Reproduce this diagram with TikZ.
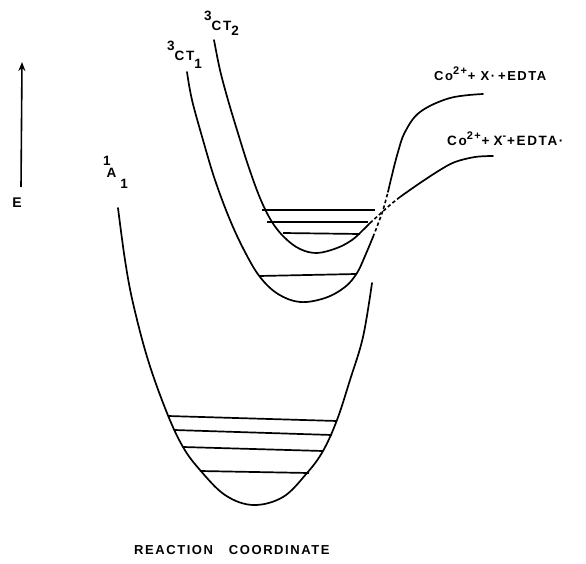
\documentclass[tikz,border=0pt]{standalone}
\usepackage{fontspec}
\setmainfont{Liberation Sans}
\newfontfamily\lbl[LetterSpace=12,BoldFont={Liberation Sans Bold}]{Liberation Sans}
\usetikzlibrary{arrows.meta}
\newcommand{\supr}[1]{\raisebox{6pt}{\fontsize{11}{13}\selectfont #1}}
\begin{document}
\begin{tikzpicture}[x=1pt,y=-1pt,
  curve/.style={line width=1.7pt, line cap=round, line join=round},
  lvl/.style={line width=1.7pt},
  dsh/.style={line width=1.6pt, dash pattern=on 3.5pt off 2.5pt},
  lab/.style={inner sep=0pt, font=\lbl\bfseries\fontsize{13.5}{15}\selectfont},
  prod/.style={inner sep=0pt, anchor=base west, font=\lbl\bfseries\fontsize{13}{15}\selectfont}]
\useasboundingbox (0,0) rectangle (586,564);

% energy axis
\coordinate (ebot) at (21,187);
\coordinate (etop) at (22,62);
\draw[line width=1.6pt, -{Stealth[length=9pt,width=7pt]}] (ebot) -- (etop);
\node[lab, font=\lbl\bfseries\fontsize{14}{16}\selectfont] (E) at (17,203) {E};

% ground state 1A1
\draw[curve] plot[smooth, tension=0.6] coordinates {(118,208) (125,260) (133,303) (148,360) (167,413) (183,447) (200,470) (225,495) (253,505) (283,497) (307,473) (323,451) (337,420) (350,380) (363,337) (372,283)};
\draw[lvl] (168,416) -- (337,421);
\draw[lvl] (174,430) -- (332,435);
\draw[lvl] (183,447) -- (323,451);
\draw[lvl] (200,471) -- (309,473);

% 3CT1 (outer)
\draw[curve] plot[smooth, tension=0.6] coordinates {(187,72) (192,100) (203,140) (215,180) (230,220) (245,252) (260,277) (278,294) (300,302) (325,298) (345,287) (357,273) (365,256) (373,237)};
\draw[dsh] plot[smooth, tension=0.6] coordinates {(373,237) (378,224) (383,210) (388,192)};
\draw[curve] plot[smooth, tension=0.6] coordinates {(388,192) (392,175) (398,152) (405,132) (420,112) (450,98) (483,94)};
\draw[lvl] (259,276) -- (356,274);

% 3CT2 (inner)
\draw[curve] plot[smooth, tension=0.6] coordinates {(214,40) (220,70) (228,100) (237,130) (248,165) (260,198) (272,222) (285,238) (300,249) (317,253) (337,248) (352,240) (362,231) (370,223)};
\draw[dsh] plot[smooth, tension=0.6] coordinates {(370,223) (380,214) (390,205) (400,197)};
\draw[curve] plot[smooth, tension=0.6] coordinates {(400,197) (420,183) (440,170) (455,162) (475,157) (493,156)};
\draw[lvl] (262,210) -- (375,210);
\draw[lvl] (267,222) -- (368,222);
\draw[lvl] (283,233) -- (360,234);

% labels
\node[lab, anchor=base west] (ct2) at (204,31) {\raisebox{10pt}{3}\kern0pt CT\raisebox{-5pt}{2}};
\node[lab, anchor=base west] (ct1) at (167,61) {\raisebox{10pt}{3}\kern0pt CT\raisebox{-8pt}{1}};
\node[lab, anchor=base west] (a1) at (103,178) {\raisebox{12pt}{1}\kern-4pt A\kern4pt\raisebox{-11pt}{1}};

\node[prod] (p1) at (434,81) {Co\supr{2+}\kern1pt+\kern5pt X·\kern3pt+EDTA};
\node[prod, font=\lbl\bfseries\fontsize{13.5}{16}\selectfont] (p2) at (447,146) {Co\supr{2+}\kern1pt+\kern4pt X\supr{-}\kern1pt+EDTA·};

\node[lab, anchor=base west, font=\lbl\bfseries\fontsize{13}{15}\selectfont] (rc) at (134,554) {REACTION\hspace{16pt}COORDINATE};
\end{tikzpicture}
\end{document}
